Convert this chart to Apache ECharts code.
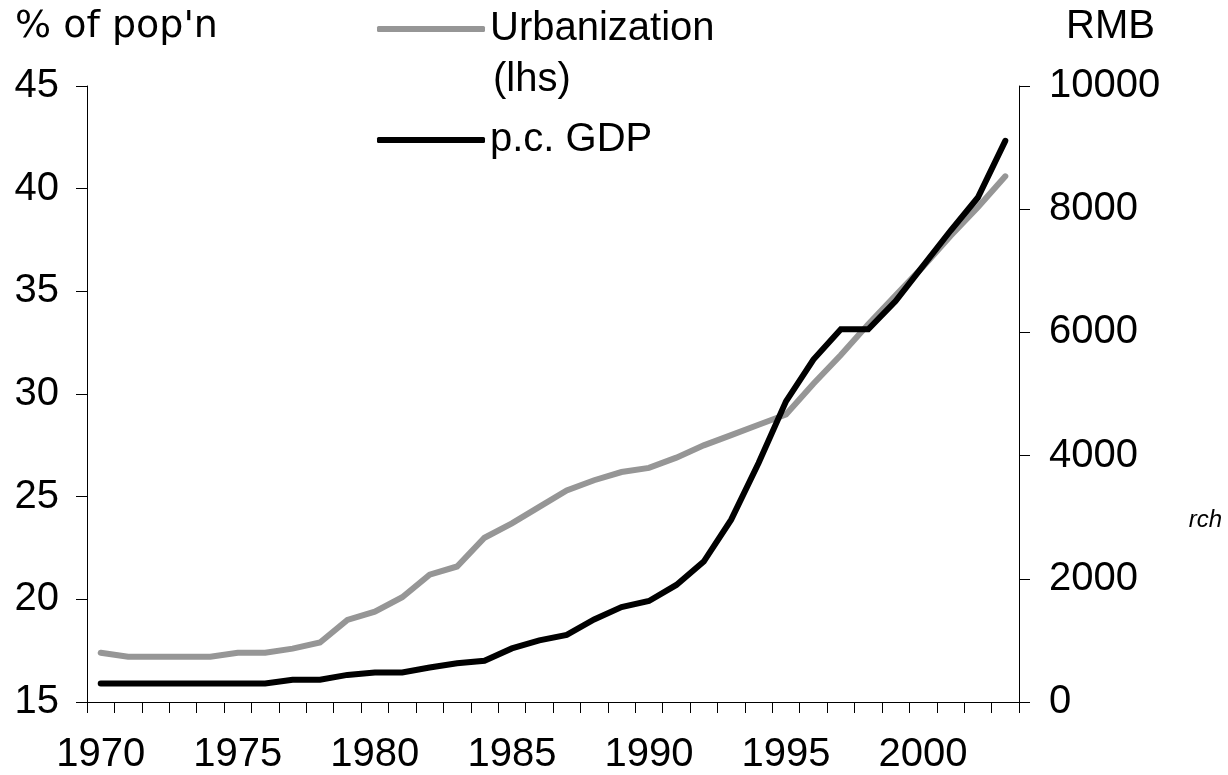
<!DOCTYPE html>
<html>
<head>
<meta charset="utf-8">
<script src="https://cdn.jsdelivr.net/npm/echarts@6/dist/echarts.min.js"></script>
<style>
  html, body { margin: 0; padding: 0; background: #fff; }
  #chart { width: 1228px; height: 775px; }
</style>
</head>
<body>
<div id="chart"></div>
<script>
// ---- Data ----
const years = ['1970','1971','1972','1973','1974','1975','1976','1977','1978','1979',
               '1980','1981','1982','1983','1984','1985','1986','1987','1988','1989',
               '1990','1991','1992','1993','1994','1995','1996','1997','1998','1999',
               '2000','2001','2002','2003'];

// Urbanization, % of population (left axis)
const urbanization = [17.4,17.2,17.2,17.2,17.2,17.4,17.4,17.6,17.9,19.0,
                      19.4,20.1,21.2,21.6,23.0,23.7,24.5,25.3,25.8,26.2,
                      26.4,26.9,27.5,28.0,28.5,29.0,30.5,31.9,33.4,34.8,
                      36.2,37.7,39.1,40.6];

// Per-capita GDP, RMB (right axis)
const pcGDP = [300,300,300,300,300,300,300,360,360,440,
               480,480,560,630,670,870,1000,1090,1340,1540,
               1640,1900,2280,2960,3880,4880,5560,6050,6050,6510,
               7080,7650,8190,9110];

const seriesNames = ['Urbanization', 'p.c. GDP'];
const leftAxisTitle = "% of pop'n";
const rightAxisTitle = 'RMB';
const legendNote = '(lhs)';
const clippedSource = 'rch';

// ---- Chart ----
const FONT = '"Liberation Sans", Arial, Helvetica, sans-serif';
const chart = echarts.init(document.getElementById('chart'), null, { renderer: 'canvas' });

const axisLineStyle = { color: '#000', width: 1 };

chart.setOption({
  backgroundColor: '#ffffff',
  animation: false,
  textStyle: { fontFamily: FONT },
  grid: { left: 87, right: 209, top: 86, bottom: 73, containLabel: false },
  legend: {
    data: seriesNames,
    orient: 'vertical',
    left: 372,
    top: 2,
    icon: 'roundRect',
    itemWidth: 108,
    itemHeight: 6,
    itemGap: 67,
    textStyle: { fontFamily: FONT, fontSize: 40, lineHeight: 44, color: '#000' },
    selectedMode: false
  },
  xAxis: {
    type: 'category',
    data: years,
    boundaryGap: true,
    axisLine: { show: true, onZero: false, lineStyle: axisLineStyle },
    axisTick: { show: true, interval: 0, alignWithLabel: false, length: 11, inside: false, lineStyle: axisLineStyle },
    axisLabel: { interval: 4, fontFamily: FONT, fontSize: 40, color: '#000', margin: 33 },
    splitLine: { show: false }
  },
  yAxis: [
    {
      type: 'value',
      position: 'left',
      min: 15, max: 45, interval: 5,
      axisLine: { show: true, lineStyle: axisLineStyle },
      axisTick: { show: true, length: 11, inside: false, lineStyle: axisLineStyle },
      axisLabel: { fontFamily: FONT, fontSize: 40, color: '#000', margin: 28, formatter: v => String(v) },
      splitLine: { show: false }
    },
    {
      type: 'value',
      position: 'right',
      min: 0, max: 10000, interval: 2000,
      axisLine: { show: true, lineStyle: axisLineStyle },
      axisTick: { show: true, length: 11, inside: false, lineStyle: axisLineStyle },
      axisLabel: { fontFamily: FONT, fontSize: 40, color: '#000', margin: 30, formatter: v => String(v) },
      splitLine: { show: false }
    }
  ],
  series: [
    {
      name: seriesNames[0],
      type: 'line',
      yAxisIndex: 0,
      data: urbanization,
      symbol: 'none',
      smooth: false,
      lineStyle: { color: '#969696', width: 6, cap: 'round', join: 'miter' },
      itemStyle: { color: '#969696' },
      z: 2
    },
    {
      name: seriesNames[1],
      type: 'line',
      yAxisIndex: 1,
      data: pcGDP,
      symbol: 'none',
      smooth: false,
      lineStyle: { color: '#000000', width: 6, cap: 'round', join: 'miter' },
      itemStyle: { color: '#000000' },
      z: 3
    }
  ],
  graphic: [
    {
      type: 'text', left: 15, top: 8,
      style: { text: leftAxisTitle, font: '38px "DejaVu Sans", Verdana, sans-serif', fill: '#000' }
    },
    {
      type: 'text', right: 73, top: 7,
      style: { text: rightAxisTitle, font: '40px ' + FONT, fill: '#000' }
    },
    {
      type: 'text', left: 493, top: 60,
      style: { text: legendNote, font: '40px ' + FONT, fill: '#000' }
    },
    {
      type: 'text', right: 6, top: 508,
      style: { text: clippedSource, font: 'italic 24px ' + FONT, fill: '#000' }
    }
  ]
});
</script>
</body>
</html>
